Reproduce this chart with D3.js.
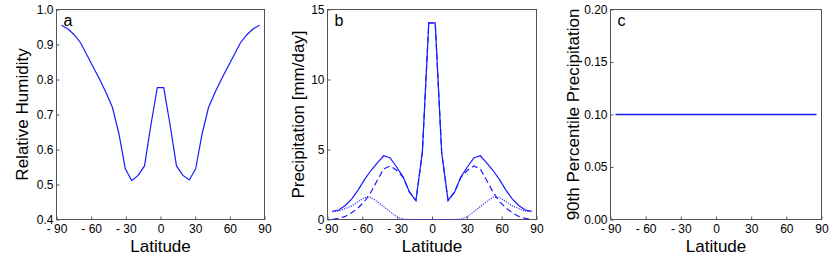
<!DOCTYPE html>
<html>
<head>
<meta charset="utf-8">
<script src="https://cdn.jsdelivr.net/npm/d3@7"></script>
<style>
  body { margin: 0; background: #fff; }
  svg text { font-family: "Liberation Sans", Arial, Helvetica, sans-serif; fill: #000; }
</style>
</head>
<body>
<svg id="fig" width="830" height="274"></svg>
<script>
// T21 gaussian latitudes
var lats = [-85.76, -80.27, -74.74, -69.21, -63.68, -58.14, -52.61, -47.07, -41.54, -36.00, -30.46, -24.92, -19.38, -13.84, -8.31, -2.77,
            2.77, 8.31, 13.84, 19.38, 24.92, 30.46, 36.00, 41.54, 47.07, 52.61, 58.14, 63.68, 69.21, 74.74, 80.27, 85.76];

// panel a - relative humidity
var relHum = [0.955, 0.945, 0.928, 0.905, 0.870, 0.835, 0.800, 0.762, 0.720, 0.645, 0.545, 0.511, 0.526, 0.553, 0.670, 0.777,
              0.777, 0.670, 0.553, 0.526, 0.513, 0.545, 0.645, 0.720, 0.762, 0.800, 0.835, 0.870, 0.905, 0.928, 0.945, 0.955];

// panel b - precip (total, dashed part, dotted part)
var precipTotal = [0.58, 0.68, 1.00, 1.45, 2.10, 2.85, 3.50, 4.05, 4.55, 4.40, 3.75, 3.05, 1.95, 1.35, 4.80, 14.05,
                   14.05, 4.80, 1.35, 1.95, 3.05, 3.75, 4.40, 4.55, 4.05, 3.50, 2.85, 2.10, 1.45, 1.00, 0.68, 0.58];
var precipDash = [0.02, 0.08, 0.22, 0.48, 0.82, 1.28, 1.95, 2.80, 3.62, 3.82, 3.52, 3.02, 1.95, 1.35, 4.80, 14.05,
                  14.05, 4.80, 1.35, 1.95, 3.02, 3.52, 3.82, 3.62, 2.80, 1.95, 1.28, 0.82, 0.48, 0.22, 0.08, 0.02];
var precipDot = [0.56, 0.60, 0.78, 0.97, 1.28, 1.57, 1.58, 1.28, 0.92, 0.56, 0.20, 0.03, 0, 0, 0, 0,
                 0, 0, 0, 0, 0.03, 0.20, 0.56, 0.92, 1.28, 1.58, 1.57, 1.28, 0.97, 0.78, 0.60, 0.56];

// panel c - 90th percentile
var pct90 = [0.1, 0.1, 0.1, 0.1, 0.1, 0.1, 0.1, 0.1, 0.1, 0.1, 0.1, 0.1, 0.1, 0.1, 0.1, 0.1,
             0.1, 0.1, 0.1, 0.1, 0.1, 0.1, 0.1, 0.1, 0.1, 0.1, 0.1, 0.1, 0.1, 0.1, 0.1, 0.1];

var latTicks = [-90, -60, -30, 0, 30, 60, 90];
var latTickLabels = ['- 90', '- 60', '- 30', '0', '30', '60', '90'];
var rhTicks = [0.4, 0.5, 0.6, 0.7, 0.8, 0.9, 1.0];
var prTicks = [0, 5, 10, 15];
var pcTicks = [0, 0.05, 0.10, 0.15, 0.20];

var svg = d3.select('#fig');
var top0 = 9.5, bot0 = 219.5;
var blue = '#1a1aff';

function drawPanel(opts) {
    var x = d3.scaleLinear().domain([-90, 90]).range([opts.left, opts.right]);
    var y = d3.scaleLinear().domain(opts.ydom).range([bot0, top0]);
    var g = svg.append('g');

    // box
    g.append('rect')
        .attr('x', opts.left).attr('y', top0)
        .attr('width', opts.right - opts.left).attr('height', bot0 - top0)
        .attr('fill', 'none').attr('stroke', '#555').attr('stroke-width', 1);

    var xAxis = d3.axisBottom(x).tickValues(latTicks).tickSize(-3).tickPadding(6)
        .tickFormat(function(d, i){ return latTickLabels[i]; });
    var gx = g.append('g').attr('transform', 'translate(0,' + bot0 + ')').call(xAxis);
    gx.select('.domain').remove();
    gx.selectAll('line').attr('stroke', '#555');
    gx.selectAll('text').attr('font-size', 12).attr('dy', '0.62em');

    var yAxis = d3.axisLeft(y).tickValues(opts.yticks).tickSize(-3).tickPadding(3)
        .tickFormat(opts.yfmt);
    var gy = g.append('g').attr('transform', 'translate(' + opts.left + ',0)').call(yAxis);
    gy.select('.domain').remove();
    gy.selectAll('line').attr('stroke', '#555');
    gy.selectAll('text').attr('font-size', 12).attr('dy', '0.3em');

    g.append('text').attr('x', (opts.left + opts.right) / 2).attr('y', 252)
        .attr('text-anchor', 'middle').attr('font-size', 17).text('Latitude');
    g.append('text')
        .attr('transform', 'translate(' + opts.ylabX + ',' + ((top0 + bot0) / 2) + ') rotate(-90)')
        .attr('text-anchor', 'middle').attr('font-size', 17).text(opts.ylab);
    g.append('text').attr('x', opts.left + 7).attr('y', 26)
        .attr('font-size', 16).text(opts.letter);

    opts.series.forEach(function(s){
        var line = d3.line().x(function(d, i){ return x(lats[i]); }).y(function(d){ return y(d); });
        g.append('path').datum(s.values)
            .attr('d', line).attr('fill', 'none')
            .attr('stroke', s.color || blue).attr('stroke-width', s.w || 1.2)
            .attr('stroke-dasharray', s.dash || null);
    });
}

drawPanel({
    left: 56.5, right: 264.5, ydom: [0.4, 1.0], yticks: rhTicks,
    yfmt: d3.format('.1f'), ylab: 'Relative Humidity', ylabX: 28, letter: 'a',
    series: [{ values: relHum }]
});

drawPanel({
    left: 327.5, right: 536.5, ydom: [0, 15], yticks: prTicks,
    yfmt: d3.format('d'), ylab: 'Precipitation [mm/day]', ylabX: 304, letter: 'b',
    series: [
        { values: precipDot, dash: '1.2,1.2', w: 1.2, color: '#3a3aff' },
        { values: precipDash, dash: '6,3.5' },
        { values: precipTotal }
    ]
});

drawPanel({
    left: 610.5, right: 821.5, ydom: [0, 0.2], yticks: pcTicks,
    yfmt: d3.format('.2f'), ylab: '90th Percentile Precipitation', ylabX: 579, letter: 'c',
    series: [{ values: pct90, w: 1.4 }]
});
</script>
</body>
</html>
